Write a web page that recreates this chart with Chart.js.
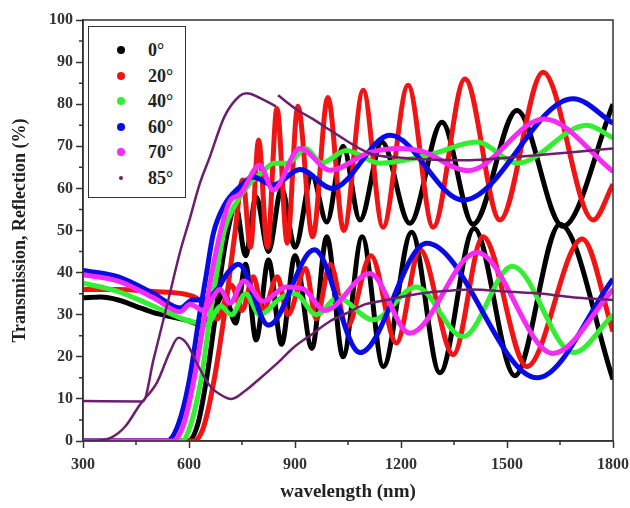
<!DOCTYPE html>
<html>
<head>
<meta charset="utf-8">
<script src="https://cdn.jsdelivr.net/npm/chart.js@4.4.1/dist/chart.umd.min.js"></script>
<style>
  body { margin: 0; background: #fff; }
  #wrap { position: relative; width: 630px; height: 508px; }
  #legend { position: absolute; left: 88px; top: 26px; width: 96px; height: 170px;
            border: 1.5px solid #333; background: #fff;
            font: bold 18px "Liberation Serif", serif; color: #222; }
  .item { position: absolute; left: 0; height: 20px; line-height: 20px; }
  .dot { position: absolute; border-radius: 50%; }
  .lbl { position: absolute; left: 59px; top: 0; white-space: nowrap; }
</style>
</head>
<body>
<div id="wrap">
  <canvas id="mycanvas" width="630" height="508"></canvas>
  <div id="legend"></div>
</div>
<script>
// legend / angles
var angles = ["0°", "20°", "40°", "60°", "70°", "85°"];
var colors = ["#000000", "#f01414", "#33ee33", "#0a0ae6", "#f52cf5", "#6b1f6e"];

// minor tick marks
var xMinor = [450, 750, 1050, 1350, 1650];
var yMinor = [5, 15, 25, 35, 45, 55, 65, 75, 85, 95];

// transmission-like (upper) and reflection-like (lower) curves, [wavelength, %]
var T0 = [[300,0],[597,0],[625,4],[650,15],[675,30],[690,40],[710,50],[732,56],[760,44],[790,58],[825,45],[862,60],[900,46],[948,63],[990,52],[1036,70],[1084,52.5],[1146,71],[1225,51.7],[1316,75.7],[1404,51.5],[1528,78.5],[1658,51],[1800,80]];
var R0 = [[300,34],[350,34.2],[400,33.5],[450,32],[500,30.5],[550,29.5],[600,28.5],[640,27.5],[670,31],[700,35],[732,28],[760,42],[790,24],[825,43],[862,23],[900,44],[948,22],[990,48.5],[1036,20],[1090,48.5],[1150,17.7],[1230,49.6],[1310,16.2],[1407,50.5],[1522,15.5],[1650,51.5],[1800,14.6]];

var T20 = [[300,0],[612,0],[640,3],[670,14],[700,30],[728,48],[752,62],[774,46],[797,71.5],[822,46],[849,79],[878,47],[908,79.5],[950,48.5],[993,81.6],[1038,50],[1093,83.3],[1149,50.8],[1220,84.5],[1291,50.8],[1381,86],[1480,52.5],[1602,87.6],[1744,52.5],[1800,61]];
var R20 = [[300,36],[400,36],[500,35.5],[580,35],[620,34],[650,32],[680,29],[720,37],[750,31],[782,39],[810,31],[850,39],[880,30],[930,41],[960,29],[1000,42],[1047,27],[1115,44],[1187,23.3],[1254,45.4],[1348,20.5],[1432,48.5],[1556,17.7],[1713,48],[1800,26]];

var T40 = [[300,0],[580,0],[605,4],[635,15],[660,30],[679,40],[700,50],[730,56],[770,61],[810,64],[840,66],[880,66],[930,69.5],[975,66],[1045,69],[1140,66],[1280,68],[1415,71],[1530,66],[1726,75],[1800,72]];
var R40 = [[300,37.5],[400,35.5],[500,32],[600,28.5],[651,27.8],[690,32],[720,30],[760,35],[800,30],[860,34],[900,35],[960,30],[1020,34],[1121,28.8],[1243,36.6],[1376,24.8],[1515,41.5],[1688,21],[1800,30]];

var T60 = [[300,0],[537,0],[570,4],[600,14],[630,30],[650,40],[668,49],[700,56],[744,60.4],[781,62.7],[838,60.8],[914,64.5],[1005,60],[1169,72.6],[1376,57.2],[1687,81.3],[1800,75.5]];
var R60 = [[300,40.5],[400,39],[500,35],[575,31.6],[610,33.5],[640,33.5],[680,36],[710,40],[740,42],[825,27.5],[955,45.4],[1084,21],[1273,47],[1585,15],[1800,38.5]];

var T70 = [[300,0],[555,0],[585,4],[615,15],[645,30],[665,40],[690,50],[716,57],[744,58.5],[800,65.5],[838,59.6],[914,69.5],[1000,64.3],[1110,68.5],[1200,69.5],[1260,68.8],[1390,64.2],[1605,76.5],[1800,64]];
var R70 = [[300,39.5],[400,38],[500,34],[575,30.7],[603,32.5],[640,31],[688,36],[716,32.7],[755,38],[810,33.2],[875,36.6],[922,36.2],[985,31],[1112,39.8],[1225,25.6],[1415,44.8],[1630,20.8],[1800,36]];

var T85 = [[300,9.5],[470,9.4],[500,19.5],[540,33],[575,45],[603,53],[630,61],[659,67.5],[700,77],[744,82],[764,82.6],[800,81.5],[846,79.5],[849,null],[852,82.1],[900,79],[950,76.5],[1000,73.8],[1112,68.3],[1200,67.3],[1300,66.8],[1395,66.7],[1500,67.3],[1600,68],[1700,68.7],[1800,69.5]];
var R85 = [[300,0],[350,0.2],[380,0.8],[420,3.5],[460,8.5],[510,14],[545,21],[570,24.5],[595,23],[625,18],[660,13],[700,10.5],[720,10],[760,12],[800,14.8],[850,18.5],[900,22.5],[950,25.5],[1000,28.5],[1050,30.5],[1100,32.5],[1160,33.5],[1250,35],[1350,35.8],[1400,36],[1500,35.5],[1600,35],[1700,34],[1800,33.5]];

var curves = [[T0, R0], [T20, R20], [T40, R40], [T60, R60], [T70, R70], [T85, R85]];

function toPts(arr) {
  return arr.map(function (p) { return { x: p[0], y: p[1] }; });
}

// later angles drawn on top (first dataset is drawn last in Chart.js)
var datasets = [];
for (var i = curves.length - 1; i >= 0; i--) {
  for (var k = 0; k < 2; k++) {
    datasets.push({
      label: angles[i],
      data: toPts(curves[i][k]),
      borderColor: colors[i],
      backgroundColor: colors[i],
      borderWidth: i == 5 ? 2.5 : 5,
      pointRadius: 0,
      fill: false,
      cubicInterpolationMode: 'monotone',
      spanGaps: false
    });
  }
}

var tickFont = { family: "Liberation Serif", size: 16, weight: "bold" };

var framePlugin = {
  id: 'frame',
  afterDraw: function (chart) {
    var ctx = chart.ctx, a = chart.chartArea, x = chart.scales.x, y = chart.scales.y;
    ctx.save();
    ctx.strokeStyle = '#333';
    ctx.lineWidth = 1.5;
    ctx.strokeRect(a.left, a.top, a.right - a.left, a.bottom - a.top);
    ctx.beginPath();
    xMinor.forEach(function (v) {
      var p = x.getPixelForValue(v);
      ctx.moveTo(p, a.bottom); ctx.lineTo(p, a.bottom + 4);
    });
    yMinor.forEach(function (v) {
      var p = y.getPixelForValue(v);
      ctx.moveTo(a.left, p); ctx.lineTo(a.left - 4, p);
    });
    ctx.stroke();
    ctx.restore();
  }
};

var ctx = document.getElementById('mycanvas');
var chart = new Chart(ctx, {
  type: 'line',
  data: { datasets: datasets },
  plugins: [framePlugin],
  options: {
    responsive: false,
    animation: false,
    layout: { padding: { left: 0, top: 20, right: 17, bottom: 0 } },
    plugins: { legend: { display: false }, tooltip: { enabled: false } },
    scales: {
      x: {
        type: 'linear', min: 300, max: 1800,
        afterFit: function (s) { s.height = 67; s.paddingLeft = 0; s.paddingRight = 0; },
        ticks: { stepSize: 300, font: tickFont, color: '#333', padding: 7, maxRotation: 0,
                 callback: function (v) { return String(v); } },
        grid: { drawOnChartArea: false, drawTicks: true, tickLength: 7, tickColor: '#333', tickWidth: 1.5 },
        border: { color: '#333', width: 1.5 },
        title: { display: true, text: 'wavelength (nm)', color: '#222',
                 font: { family: "Liberation Serif", size: 19, weight: "bold" }, padding: { top: 5, bottom: 5 } }
      },
      y: {
        min: 0, max: 100,
        afterFit: function (s) { s.width = 83; s.paddingTop = 0; s.paddingBottom = 0; },
        ticks: { stepSize: 10, font: tickFont, color: '#333', padding: 3,
                 callback: function (v) { return String(v); } },
        grid: { drawOnChartArea: false, drawTicks: true, tickLength: 7, tickColor: '#333', tickWidth: 1.5 },
        border: { color: '#333', width: 1.5 },
        title: { display: true, text: 'Transmission, Reflection (%)', color: '#222',
                 font: { family: "Liberation Serif", size: 18, weight: "bold" }, padding: { top: 10, bottom: 10 } }
      }
    }
  }
});

// legend box inside the plot
var leg = document.getElementById('legend');
angles.forEach(function (name, i) {
  var it = document.createElement('div');
  it.className = 'item';
  it.style.top = (13 + i * 25.6) + 'px';
  var d = document.createElement('div');
  d.className = 'dot';
  var r = i == 5 ? 2 : 4;
  d.style.width = d.style.height = (2 * r) + 'px';
  d.style.left = (32 - r) + 'px';
  d.style.top = (10 - r) + 'px';
  d.style.background = colors[i];
  var t = document.createElement('span');
  t.className = 'lbl';
  t.textContent = name;
  it.appendChild(d);
  it.appendChild(t);
  leg.appendChild(it);
});
</script>
</body>
</html>
